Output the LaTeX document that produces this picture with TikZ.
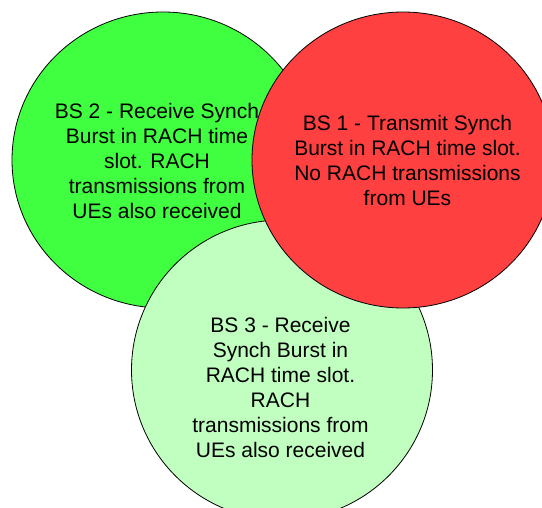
\documentclass[tikz,border=0pt]{standalone}
\usepackage{fontspec}
\setmainfont{Liberation Sans}
\definecolor{bsgreen}{HTML}{40FF40}
\definecolor{bsred}{HTML}{FF4040}
\definecolor{bslight}{HTML}{C0FFC0}
\begin{document}
\begin{tikzpicture}[x=1pt,y=-1pt,
  cell/.style={draw=black,line width=0.8pt},
  label/.style={align=center,font=\fontsize{21}{25}\selectfont,inner sep=0pt}]
\useasboundingbox (0,0) rectangle (542,508);
\clip (0,0) rectangle (542,508);
\fill[white] (0,0) rectangle (542,508);
\draw[cell,fill=bsgreen] (163,160) ellipse [x radius=151, y radius=148];
\draw[cell,fill=bslight] (282,370) ellipse [x radius=150.5, y radius=150];
\draw[cell,fill=bsred] (403,160) ellipse [x radius=151, y radius=148];
\node[label] (bs2) at (157,161) {BS 2 - Receive Synch\\Burst in RACH time\\slot. RACH\\transmissions from\\UEs also received};
\node[label] (bs1) at (407.5,160) {BS 1 - Transmit Synch\\Burst in RACH time slot.\\No RACH transmissions\\from UEs};
\node[label] (bs3) at (280.5,387) {BS 3 - Receive\\Synch Burst in\\RACH time slot.\\RACH\\transmissions from\\UEs also received};
\end{tikzpicture}
\end{document}
